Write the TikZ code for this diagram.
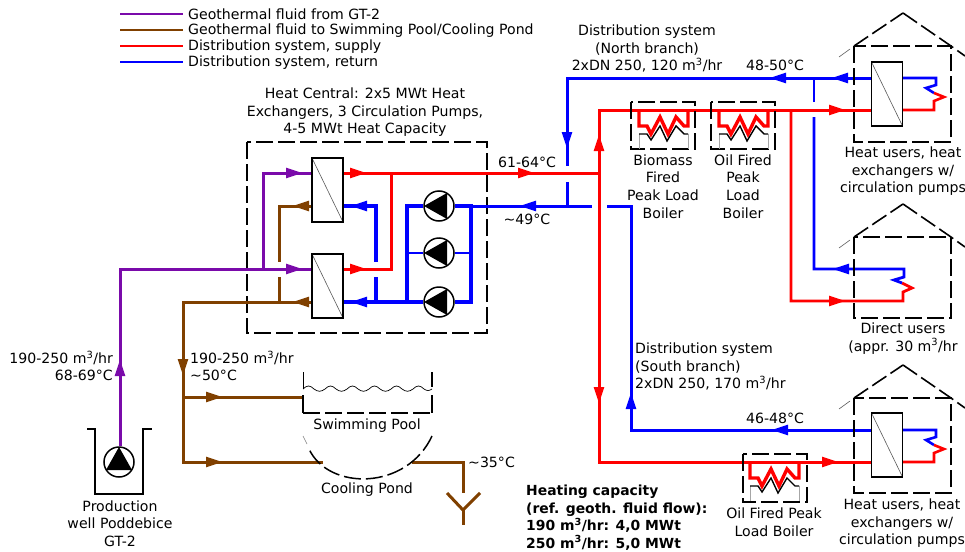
\documentclass[tikz,border=0pt]{standalone}
\usepackage{fontspec}
\setmainfont{DejaVu Sans}
\usetikzlibrary{calc}
\definecolor{pur}{HTML}{7A0AAA}
\definecolor{brn}{HTML}{804000}
\definecolor{red1}{HTML}{FF0000}
\definecolor{blu}{HTML}{0000FF}
\tikzset{
 x=1pt,y=-1pt,
 pipe/.style={line width=3pt,line join=miter},
 purp/.style={pipe,pur},
 brow/.style={pipe,brn},
 rpipe/.style={pipe,red1},
 bpipe/.style={pipe,blu},
 bthick/.style={pipe,blu,line width=3.6pt},
 hx/.style={draw=black,line width=1.7pt,fill=white,minimum width=31pt,minimum height=64pt,inner sep=0pt,
   path picture={\draw[line width=.6pt,gray!70!black] (path picture bounding box.north west) -- (path picture bounding box.south east);}},
 dbox/.style={draw=black,line width=1.6pt,dash pattern=on 17pt off 5pt},
 pumpc/.style={circle,draw=black,line width=1.5pt,fill=white,minimum size=30pt,inner sep=0pt},
 lbl/.style={font=\fontsize{14.1pt}{17.6pt}\selectfont,align=center,inner sep=0pt,text=black,yshift=-1.5pt},
 lleft/.style={lbl,align=left,anchor=west},
 lright/.style={lbl,align=right,anchor=east},
}
\newcommand{\ahead}[4]{\fill[#4,shift={(#1,#2)},rotate=#3] (0,0) -- (-16,-5.4) -- (-16,5.4) -- cycle;}
\newcommand{\coil}[2]{%
 \draw[rpipe,line width=3.4pt] (#1+0,#2) -- (#1+0,#2+16) -- (#1+8,#2+16) -- (#1+12,#2+24) -- (#1+21,#2+7) -- (#1+29,#2+24) -- (#1+37,#2+7) -- (#1+45,#2+16) -- (#1+49,#2+16) -- (#1+49,#2);
 \draw[line width=1pt,gray!70] (#1,#2+24) -- (#1,#2+39) (#1+49,#2+24) -- (#1+49,#2+39);
 \draw[line width=1.4pt,black] (#1,#2+24) -- (#1+8,#2+24) -- (#1+12,#2+30) -- (#1+21,#2+16) -- (#1+28,#2+31) -- (#1+37,#2+16) -- (#1+45,#2+24) -- (#1+49,#2+24);
}
\newcommand{\house}[3]{%
 \draw[dbox] (854,#1) -- (854,#2) -- (951,#2) -- (951,#1) -- cycle;
 \draw[dbox] (854,#1) -- (903,#3);
 \draw[dbox] (903,#3) -- (951,#1) -- (965,#1+10);
 \draw[line width=.6pt,gray!70!black] (839,#1+11) -- (850,#1+3);
}
\newcommand{\usercoil}[2]{%
 \draw[bpipe,line width=2.6pt] (903,#1) -- (936,#1) -- (936,#1+7) -- (926,#1+10) -- (934,#1+15);
 \draw[rpipe,line width=2.6pt] (934,#1+15) -- (944,#1+19) -- (934,#1+23) -- (934,#2) -- (903,#2);
}
\newcommand{\pumpg}[1]{\fill[black] ($(#1)+(-15,0)$) -- ($(#1)+(8,-13)$) -- ($(#1)+(8,13)$) -- cycle;}
\begin{document}
\begin{tikzpicture}
\useasboundingbox (0,0) rectangle (965,551);
% legend
\coordinate (l1a) at (120,14); \coordinate (l1b) at (183,14);
\coordinate (l2a) at (120,30); \coordinate (l2b) at (183,30);
\coordinate (l3a) at (120,46); \coordinate (l3b) at (183,46);
\coordinate (l4a) at (120,62); \coordinate (l4b) at (183,62);
\draw[purp,line width=2.6pt] (l1a) -- (l1b);
\draw[brow,line width=2.6pt] (l2a) -- (l2b);
\draw[rpipe,line width=2.6pt] (l3a) -- (l3b);
\draw[bpipe,line width=2.6pt] (l4a) -- (l4b);
\node[lleft] (t1) at (188,12.5) {Geothermal fluid from GT-2};
\node[lleft] (t2) at (188,29) {Geothermal fluid to Swimming Pool/Cooling Pond};
\node[lleft] (t3) at (188,45) {Distribution system, supply};
\node[lleft] (t4) at (188,61) {Distribution system, return};

% heat central
\draw[dbox] (247,142) rectangle (487,333);
% equipment
\node[hx] (hxa) at (327.5,190) {};
\node[hx] (hxb) at (327.5,286) {};
\node[pumpc] (pa) at (439,206) {};
\node[pumpc] (pbb) at (439,253) {};
\node[pumpc] (pc) at (439,302) {};
\node[hx] (hxn) at (887,94) {};
\node[hx] (hxs) at (887,445) {};
\node[pumpc] (pw) at (119,462) {};
\fill[black] (119,447) -- (106,470) -- (132,470) -- cycle;
% coordinates
\coordinate (jp) at (120,269);
\coordinate (pb) at (263,269);
\coordinate (pt) at (263,173);
\coordinate (brt) at (279,206);
\coordinate (brm) at (183,302);
\coordinate (brb) at (279,302);
\coordinate (rj) at (391,173);
\coordinate (rm) at (391,269);
\coordinate (mainN) at (599,110);
\coordinate (mainS) at (599,462);
\coordinate (mainJ) at (599,173);
\coordinate (bn) at (567,78);
\coordinate (bs) at (631,206);
\coordinate (bsb) at (631,430);
% purple
\draw[purp] (pw.north -| jp) -- (jp) -- (hxb.west |- jp);
\draw[purp] (pb) -- (pt) -- (hxa.west |- pt);
\ahead{302}{173}{0}{pur} \ahead{302}{269}{0}{pur}
\ahead{120}{360}{90}{pur}
% brown
\draw[brow] (hxa.west |- brt) -- (brt) -- (279,262);
\draw[brow] (279,277) -- (brb);
\draw[brow] (hxb.west |- brm) -- (brm) -- (183,462) -- (323,462);
\draw[brow] (183,397) -- (303,397);
\ahead{293}{206}{180}{brn} \ahead{293}{302}{180}{brn}
\ahead{183}{375}{-90}{brn}
\ahead{222}{397}{0}{brn} \ahead{222}{462}{0}{brn}
\draw[brow] (412,462) -- (463,462) -- (463,493);
\draw[brow] (447,493) -- (463,510) -- (480,493);
\draw[brow] (463,510) -- (463,525);
% red HC
\draw[rpipe] (hxa.east |- rj) -- (mainJ);
\draw[rpipe] (hxb.east |- rm) -- (rm) -- (rj);
\ahead{366}{173}{0}{red1} \ahead{366}{269}{0}{red1}
\ahead{534}{173}{0}{red1}
% blue HC
\draw[bthick] (hxa.east |- pa) -- (376,206) -- (376,262);
\draw[bthick] (376,277) -- (376,302);
\draw[bthick] (hxb.east |- pc) -- (pc.west);
\draw[bthick] (pa.west) -- (407,206) -- (407,302);
\draw[bpipe,line width=2.4pt] (407,253) -- (pbb.west);
\draw[bthick] (pa.east) -- (471,206) -- (471,302) -- (pc.east);
\draw[bpipe,line width=2.4pt] (pbb.east) -- (471,253);
\draw[bpipe] (471,206) -- (592,206);
\ahead{351}{206}{180}{blu} \ahead{351}{302}{180}{blu}
\ahead{520}{206}{180}{blu}
\pumpg{pa}
\pumpg{pbb}
\pumpg{pc}

% north blue
\draw[bpipe] (hxn.west |- bn) -- (bn) -- (567,166);
\draw[bpipe] (567,182) -- (567,206);
\ahead{770}{78}{180}{blu} \ahead{832}{78}{180}{blu}
\ahead{567}{148}{-90}{blu}
% south blue
\draw[bpipe] (607,206) -- (bs) -- (bsb) -- (hxs.west |- bsb);
\ahead{631}{393}{90}{blu}
\ahead{772}{430}{180}{blu}
% red main
\draw[rpipe] (hxn.west |- mainN) -- (mainN) -- (mainS) -- (hxs.west |- mainS);
\ahead{599}{135}{90}{red1} \ahead{599}{403}{-90}{red1}
\ahead{845}{110}{0}{red1}
\ahead{838}{462}{0}{red1}
% boilers
\draw[dbox] (631,102) rectangle (695,149);
\draw[dbox] (711,102) rectangle (775,149);
\draw[dbox] (743,454) rectangle (807,502);
\coil{639}{110}
\coil{719}{110}
\coil{750}{462}
% direct users
\draw[rpipe,line width=2.8pt] (791,110) -- (791,301) -- (903,301) -- (903,292) -- (912,288) -- (902,283);
\draw[bpipe,line width=2.8pt] (902,283) -- (894,280) -- (904,277) -- (904,269) -- (814,269) -- (814,117);
\draw[bpipe,line width=2.8pt] (814,102) -- (814,78);
\ahead{833}{269}{180}{blu}
\ahead{845}{301}{0}{red1}
% houses
\house{46}{142}{13}
\house{237}{318}{204}
\house{398}{493}{365}
\usercoil{78}{110}
\usercoil{430}{462}

% pool
\draw[line width=1.5pt,black] (432,372) -- (432,387);
\draw[line width=.7pt,black] (303,372) -- (303,389);
\draw[line width=.7pt,black] (303,389) .. controls (307,385) and (310,385) .. (314,389)
 .. controls (318,392) and (321,392) .. (325,389)
 .. controls (329,385) and (332,385) .. (336,389)
 .. controls (340,392) and (343,392) .. (347,389)
 .. controls (351,385) and (354,385) .. (358,389)
 .. controls (362,392) and (365,392) .. (369,389)
 .. controls (373,385) and (376,385) .. (380,389)
 .. controls (384,392) and (387,392) .. (391,389)
 .. controls (395,385) and (398,385) .. (402,389)
 .. controls (406,392) and (409,392) .. (413,389)
 .. controls (417,385) and (420,385) .. (424,389)
 .. controls (427,391) and (429,391) .. (432,389);
\draw[line width=1.6pt,black] (303,395) -- (303,413);
\draw[line width=1.6pt,black] (432,395) -- (432,413);
\draw[dbox] (303,413) -- (432,413);
\draw[line width=.6pt,gray] (303,436) -- (307,444);
\draw[line width=1.5pt,dash pattern=on 17pt off 5pt] (432,436) .. controls (406.5,490.8) and (328.5,490.8) .. (309,449);

% well
\draw[line width=1.8pt,black] (87,429) -- (95,429) -- (95,494) -- (143,494) -- (143,429) -- (152,429);

% labels
\node[lbl] (hc) at (365,111) {Heat Central: 2x5 MWt Heat\\Exchangers, 3 Circulation Pumps,\\4-5 MWt Heat Capacity};
\node[lbl] (nb) at (647,47) {Distribution system\\(North branch)\\2xDN 250, 120 m\textsuperscript{3}/hr};
\node[lleft] (sb) at (635,365) {Distribution system\\(South branch)\\2xDN 250, 170 m\textsuperscript{3}/hr};
\node[lbl] (t485) at (775,64) {48-50°C};
\node[lbl] (t6164) at (527,161) {61-64°C};
\node[lbl] (t49) at (527,218) {\textasciitilde49°C};
\node[lbl] (t4648) at (775,417) {46-48°C};
\node[lbl] (bb) at (663,185) {Biomass\\Fired\\Peak Load\\Boiler};
\node[lbl] (ob) at (743,185) {Oil Fired\\Peak\\Load\\Boiler};
\node[lbl] (ob2) at (774,521) {Oil Fired Peak\\Load Boiler};
\node[lbl] (u1) at (903,170) {Heat users, heat\\exchangers w/\\circulation pumps};
\node[lbl] (u2) at (903,337) {Direct users\\(appr. 30 m\textsuperscript{3}/hr};
\node[lbl] (u3) at (902,522) {Heat users, heat\\exchangers w/\\circulation pumps};
\node[lright] (wflow) at (113,364.5) {190-250 m\textsuperscript{3}/hr\\68-69°C};
\node[lleft] (bflow) at (190,364.5) {190-250 m\textsuperscript{3}/hr\\\textasciitilde50°C};
\node[lbl] (sp) at (367,424.5) {Swimming Pool};
\node[lbl] (cp) at (367,488) {Cooling Pond};
\node[lleft] (t35) at (468,460.5) {\textasciitilde35°C};
\node[lbl] (pw2) at (120,522) {Production\\well Poddebice\\GT-2};
\node[lleft,font=\fontsize{13.9pt}{17.6pt}\selectfont\bfseries] (cap) at (526,516) {Heating capacity\\(ref. geoth. fluid flow):\\190 m\textsuperscript{3}/hr: 4,0 MWt\\250 m\textsuperscript{3}/hr: 5,0 MWt};
\end{tikzpicture}
\end{document}
